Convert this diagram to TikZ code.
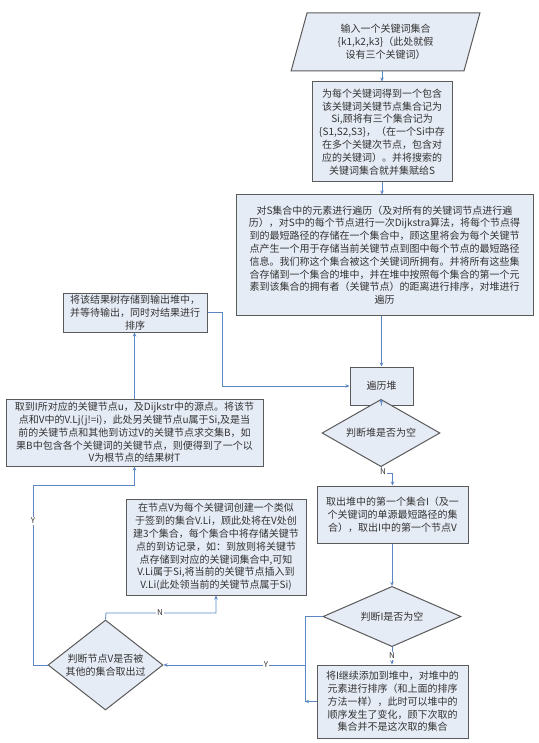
\documentclass[tikz,border=0pt]{standalone}
\usepackage{fontspec}
\setmainfont{Noto Sans CJK SC}
\usetikzlibrary{shapes.geometric,arrows.meta}
\definecolor{boxfill}{HTML}{E6ECF6}
\definecolor{boxline}{HTML}{5A5A5A}
\definecolor{flowblue}{HTML}{5B87C5}
\definecolor{txt}{HTML}{333333}
\tikzset{
  stepbox/.style={rectangle, draw=boxline, fill=boxfill, line width=1pt,
    align=center, inner sep=1pt, text=txt,
    font=\fontsize{10}{12.8}\selectfont},
  decision/.style={diamond, draw=boxline, fill=boxfill, line width=1pt,
    align=center, inner sep=-3pt, text=txt,
    font=\fontsize{10}{12.8}\selectfont},
  inbox/.style={trapezium, trapezium left angle=75, trapezium right angle=105,
    trapezium stretches=true, draw=boxline, fill=boxfill, line width=1pt,
    align=center, inner sep=1pt, text=txt,
    font=\fontsize{10}{12.8}\selectfont},
  flow/.style={-{Stealth[length=4pt,width=3.5pt]}, draw=flowblue, line width=0.8pt},
  link/.style={draw=flowblue, line width=0.8pt},
  tag/.style={fill=white, inner sep=1pt, text=txt, font=\fontsize{8}{9}\selectfont}
}
\begin{document}
\begin{tikzpicture}[x=1pt,y=-1pt]
  \useasboundingbox (0,0) rectangle (538,743);
  % Draw main column
  \node (input) [inbox, minimum width=189pt, minimum height=58pt] at (385.5,42)
        {输入一个关键词集合\\\{k1,k2,k3\}（此处就假\\设有三个关键词）};
  \node (sets) [stepbox, minimum width=140pt, minimum height=100pt] at (382,132)
        {为每个关键词得到一个包含\\该关键词关键节点集合记为\\Si,顾将有三个集合记为\\
         \{S1,S2,S3\}，（在一个Si中存\\在多个关键次节点，包含对\\应的关键词）。并将搜索的\\
         关键词集合就并集赋给S};
  \node (dijk) [stepbox, minimum width=297pt, minimum height=120pt] at (384.5,255)
        {对S集合中的元素进行遍历（及对所有的关键词节点进行遍\\
         历），对S中的每个节点进行一次Dijkstra算法，将每个节点得\\
         到的最短路径的存储在一个集合中，顾这里将会为每个关键节\\
         点产生一个用于存储当前关键节点到图中每个节点的最短路径\\
         信息。我们称这个集合被这个关键词所拥有。并将所有这些集\\
         合存储到一个集合的堆中，并在堆中按照每个集合的第一个元\\
         素到该集合的拥有者（关键节点）的距离进行排序，对堆进行\\
         遍历};
  \node (heap) [stepbox, minimum width=63pt, minimum height=38pt] at (381.5,386) {遍历堆};
  \node (isempty) [decision, minimum width=118pt, minimum height=42pt] at (381,433)
        {判断堆是否为空};
  \node (first) [stepbox, minimum width=151pt, minimum height=57pt] at (392.5,514.5)
        {取出堆中的第一个集合I（及一\\个关键词的单源最短路径的集\\合），取出I中的第一个节点V};
  \node (setempty) [decision, minimum width=138pt, minimum height=33pt] at (392,616.5)
        {判断I是否为空};
  \node (readd) [stepbox, minimum width=151pt, minimum height=73pt] at (392.5,701.5)
        {将I继续添加到堆中，对堆中的\\元素进行排序（和上面的排序\\方法一样），此时可以堆中的\\
         顺序发生了变化，顾下次取的\\集合并不是这次取的集合};
  % Draw left column
  \node (visited) [decision, minimum width=115pt, minimum height=66pt] at (105.5,665)
        {判断节点V是否被\\其他的集合取出过};
  \node (checkin) [stepbox, minimum width=180pt, minimum height=96pt] at (216,547)
        {在节点V为每个关键词创建一个类似\\于签到的集合V.Li，顾此处将在V处创\\
         建3个集合，每个集合中将存储关键节\\点的到访记录，如：到放则将关键节\\
         点存储到对应的关键词集合中,可知\\V.Li属于Si,将当前的关键节点插入到\\
         V.Li(此处领当前的关键节点属于Si)};
  \node (tree) [stepbox, minimum width=257pt, minimum height=67pt] at (134.5,432.5)
        {取到I所对应的关键节点u，及Dijkstr中的源点。将该节\\
         点和V中的V.Lj(j!=i)，此处另关键节点u属于Si,及是当\\
         前的关键节点和其他到访过V的关键节点求交集B，如\\
         果B中包含各个关键词的关键节点，则便得到了一个以\\
         V为根节点的结果树T};
  \node (output) [stepbox, minimum width=144pt, minimum height=39pt] at (135,312.5)
        {将该结果树存储到输出堆中，\\并等待输出，同时对结果进行\\排序};
  % Draw connectors
  \coordinate (joinY) at (305,665);
  \draw[flow] (sets.north |- input.south) -- (sets.north);
  \draw[flow] (sets.south) -- (sets.south |- dijk.north);
  \draw[flow] (heap.north |- dijk.south) -- (heap.north);
  \draw[flow] (heap.south) -- (isempty.north);
  \draw[flow] (isempty.south) -- (381,473) -- (first.north |- 0,473) -- (first.north);
  \node[tag] at (383,472) {N};
  \draw[flow] (first.south -| setempty.north) -- (setempty.north);
  \draw[flow] (setempty.south) -- (setempty.south |- readd.north)
        node[pos=0.5, tag] {N};
  \draw[flow] (setempty.west) -- (setempty.west -| joinY) -- (joinY) -- (visited.east);
  \node[tag] at (266,665) {Y};
  \draw[link] (joinY) -- (joinY |- readd.west);
  \draw[flow] (readd.west) -- (joinY |- readd.west);
  \draw[flow] (visited.north) -- (106,613) -- (checkin.south |- 0,613) -- (checkin.south);
  \node[tag] at (160,613) {N};
  \draw[flow] (visited.west) -- (33,665) -- (33,485) -- (tree.south |- 0,485) -- (tree.south);
  \node[tag] at (33,521) {Y};
  \draw[flow] (tree.north) -- (tree.north |- output.south);
  \draw[flow] (output.east) -- (222,312.5) -- (222,386) -- (heap.west);
\end{tikzpicture}
\end{document}
